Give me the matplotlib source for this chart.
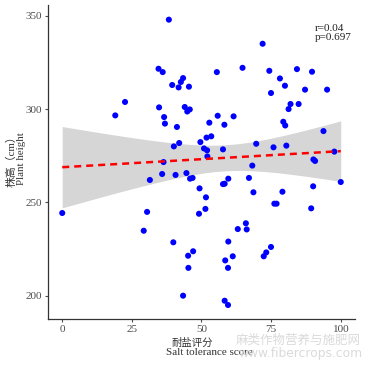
import numpy as np
import matplotlib
matplotlib.use("Agg")
import matplotlib.pyplot as plt

# Data
salt_score = [0.1, 19.1, 22.6, 29.3, 30.5, 31.5, 34.6, 34.8, 35.9, 36.1, 36.4, 36.6,
              36.9, 38.3, 39.5, 39.9, 40.1, 40.7, 41.2, 41.8, 42.0, 42.6, 43.4, 43.4,
              44.0, 44.6, 44.9, 45.2, 45.3, 45.5, 45.8, 45.9, 46.8, 47.0, 49.1, 49.3,
              49.6, 50.9, 51.4, 51.6, 51.8, 52.0, 52.1, 52.8, 53.5, 55.5, 55.8, 57.7,
              57.7, 58.3, 58.2, 58.3, 58.5, 59.5, 59.5, 59.6, 59.6, 61.2, 61.5, 63.0,
              64.7, 65.9, 66.2, 67.0, 68.2, 68.6, 69.6, 71.9, 72.3, 73.2, 74.3, 74.9,
              74.9, 75.8, 76.1, 76.9, 78.1, 79.0, 79.3, 79.9, 80.0, 80.4, 81.2, 81.9,
              84.2, 84.8, 87.1, 89.3, 89.6, 90.0, 90.1, 90.7, 93.7, 95.0, 97.6, 99.9]
plant_height = [244.3, 296.6, 303.8, 234.8, 244.9, 262.0, 321.6, 300.9, 265.2, 319.8, 271.6, 295.7,
                292.2, 347.9, 312.9, 228.6, 280.0, 264.7, 290.4, 311.6, 281.8, 314.5, 316.6, 200.0,
                301.1, 265.7, 298.7, 221.4, 214.9, 312.0, 299.8, 262.7, 263.1, 223.8, 243.9, 257.5,
                282.3, 278.9, 246.5, 252.7, 284.7, 277.9, 274.6, 292.7, 285.4, 319.8, 296.4, 278.4,
                259.8, 260.0, 291.6, 197.3, 218.9, 195.0, 214.9, 262.7, 229.0, 221.1, 296.1, 235.7,
                322.1, 238.8, 235.5, 263.1, 269.7, 255.4, 281.4, 335.0, 221.1, 223.2, 320.5, 308.6,
                226.1, 279.5, 249.3, 249.3, 316.4, 255.7, 293.2, 312.5, 291.2, 280.4, 300.0, 302.7,
                321.4, 302.7, 310.4, 246.8, 320.0, 258.6, 273.0, 272.2, 288.2, 310.4, 277.2, 260.9]
x_ticks = [0, 25, 50, 75, 100]
y_ticks = [200, 250, 300, 350]
stats_text = "r=0.04\np=0.697"
xlabel_cn = "耐盐评分"
xlabel_en = "Salt tolerance score"
ylabel_text = "株高（cm）\nPlant height"

x = np.array(salt_score)
y = np.array(plant_height)
n = len(x)

# Linear fit with 95% confidence band
slope, intercept = np.polyfit(x, y, 1)
xs = np.linspace(x.min(), x.max(), 200)
ys = intercept + slope * xs
resid = y - (intercept + slope * x)
s = np.sqrt(np.sum(resid ** 2) / (n - 2))
sxx = np.sum((x - x.mean()) ** 2)
se = s * np.sqrt(1.0 / n + (xs - x.mean()) ** 2 / sxx)
tval = 1.985
lo, hi = ys - tval * se, ys + tval * se

plt.rcParams['font.family'] = ['Liberation Serif', 'Noto Sans CJK SC']

fig = plt.figure(figsize=(3.65, 3.65), dpi=100)
ax = fig.add_axes([0.1315, 0.126, 0.8411, 0.860])

ax.fill_between(xs, lo, hi, color='#D6D6D6', lw=0, zorder=1)
ax.scatter(x, y, s=19, color='#0000FF', edgecolors='none', zorder=3)
ax.plot(xs, ys, color='#FF0000', lw=1.8, dashes=(2.8, 2.0), zorder=4)

ax.set_xlim(-5, 105)
ax.set_ylim(187.5, 355.7)
ax.set_xticks(x_ticks)
ax.set_yticks(y_ticks)
ax.tick_params(axis='both', labelsize=8, colors='#4D4D4D', length=2.5, width=0.8,
               labelcolor='#4D4D4D', pad=2)
for side in ['top', 'right']:
    ax.spines[side].set_visible(False)
for side in ['left', 'bottom']:
    ax.spines[side].set_color('#333333')
    ax.spines[side].set_linewidth(0.9)

# x-axis title (two lines)
ax.text(0.47, -0.075, xlabel_cn, transform=ax.transAxes, fontsize=7.5, color='#333333',
        ha='center', va='center')
ax.text(0.525, -0.108, xlabel_en, transform=ax.transAxes, fontsize=8, color='#333333',
        ha='center', va='center')

# y-axis title
ax.set_ylabel(ylabel_text, fontsize=7.8, color='#333333', linespacing=1.0)
ax.yaxis.set_label_coords(-0.072, 0.51)

ax.text(90.7, 345.5, stats_text, fontsize=8, color='#222222', va='top', ha='left',
        linespacing=1.0)

# faint watermark
fig.text(0.817, 0.068, "麻类作物营养与施肥网", fontsize=9, color='#DADADA',
         ha='center', va='center', family=['Noto Sans CJK SC'], zorder=0)
fig.text(0.824, 0.031, "www.fibercrops.com", fontsize=8.8, color='#DADADA',
         ha='center', va='center', family=['DejaVu Sans'], zorder=0)

fig.savefig("out.png", dpi=100)
